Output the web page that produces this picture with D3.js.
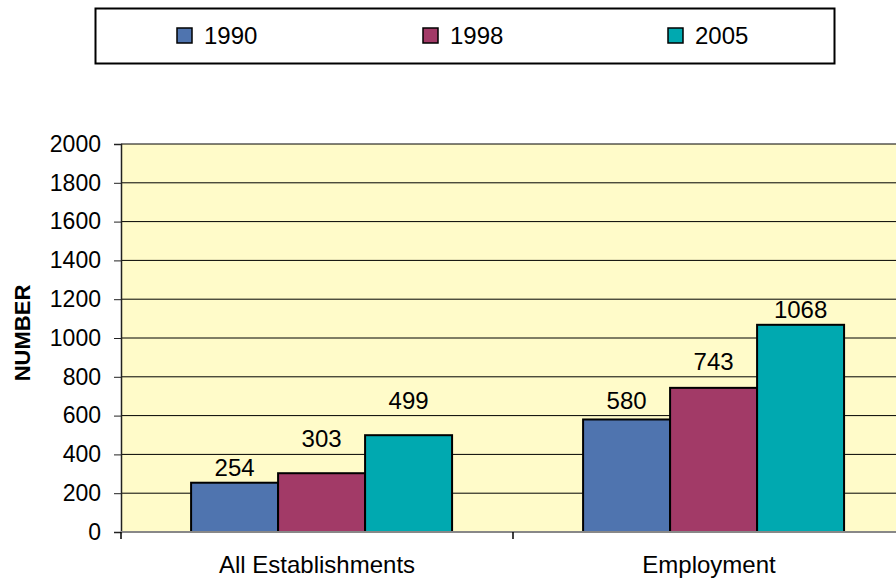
<!DOCTYPE html>
<html><head><meta charset="utf-8">
<script src="https://cdn.jsdelivr.net/npm/d3@7"></script>
<style>body{margin:0;background:#fff;}svg{display:block;font-family:"Liberation Sans",Arial,sans-serif;}</style>
</head><body>
<svg id="c" width="896" height="582"></svg>
<script>
const categories = ["All Establishments", "Employment"];
const seriesNames = ["1990", "1998", "2005"];
const values1990 = [254, 580];
const values1998 = [303, 743];
const values2005 = [499, 1068];
const yTicks = [0, 200, 400, 600, 800, 1000, 1200, 1400, 1600, 1800, 2000];
const colors = ["#4F74AF", "#A23A67", "#00A9B0"];

const seriesValues = [values1990, values1998, values2005];
const svg = d3.select("#c");
const L = 121, T = 144, B = 532, R = 905;

const x0 = d3.scaleBand().domain(categories).range([L, R]).paddingInner(0).paddingOuter(0);
const x1 = d3.scaleBand().domain(seriesNames).range([0, x0.bandwidth()]).paddingOuter(0.753).paddingInner(0).align(0.535);
const y = d3.scaleLinear().domain([0, 2000]).range([B, T]);

// label placement: sit above bar, but hop above a gridline if the text would cross it
function labelBaseline(v) {
  let base = y(v) - 7;
  const h = 16;
  yTicks.forEach(t => {
    const gy = y(t);
    if (t > 0 && gy < base + 4 && gy > base - h) base = gy - 7;
  });
  return base;
}

// plot background
svg.append("rect").attr("x", L).attr("y", T).attr("width", R - L).attr("height", B - T).attr("fill", "#FFFBC9");

// gridlines
svg.append("g").selectAll("line").data(yTicks.filter(d => d > 0)).join("line")
  .attr("x1", L).attr("x2", R).attr("y1", d => y(d)).attr("y2", d => y(d))
  .attr("stroke", "#000").attr("stroke-width", 1);

// bars
const groups = svg.append("g").selectAll("g").data(categories).join("g")
  .attr("transform", c => `translate(${x0(c)},0)`);
groups.each(function(c, ci) {
  const g = d3.select(this);
  seriesNames.forEach((s, si) => {
    const v = seriesValues[si][ci];
    g.append("rect")
      .attr("x", x1(s)).attr("y", y(v))
      .attr("width", x1.bandwidth()).attr("height", y(0) - y(v))
      .attr("fill", colors[si]).attr("stroke", "#000").attr("stroke-width", 2);
    g.append("text")
      .attr("x", x1(s) + x1.bandwidth() / 2).attr("y", labelBaseline(v))
      .attr("text-anchor", "middle").attr("font-size", 24).attr("fill", "#000")
      .text(v);
  });
});

// y axis
const yAxis = svg.append("g").attr("transform", `translate(${L},0)`)
  .call(d3.axisLeft(y).tickValues(yTicks).tickSize(7).tickPadding(13).tickFormat(d3.format("d")));
yAxis.select(".domain").attr("stroke", "#222").attr("stroke-width", 1.5);
yAxis.selectAll(".tick line").attr("stroke", "#222");
yAxis.selectAll("text").attr("font-size", 23).attr("fill", "#000").attr("font-family", "Liberation Sans, Arial, sans-serif");

// x axis
const xAxis = svg.append("g").attr("transform", `translate(0,${B})`)
  .call(d3.axisBottom(x0).tickSize(0).tickPadding(24));
xAxis.select(".domain").remove();
xAxis.append("line").attr("x1", L).attr("x2", R).attr("y1", 0).attr("y2", 0).attr("stroke", "#888").attr("stroke-width", 2);
xAxis.selectAll(".tickmark").data([L, L + x0.bandwidth()]).join("line")
  .attr("x1", d => d).attr("x2", d => d).attr("y1", 0).attr("y2", 7).attr("stroke", "#000").attr("stroke-width", 1.5);
xAxis.selectAll("text").attr("font-size", 24).attr("fill", "#000").attr("font-family", "Liberation Sans, Arial, sans-serif");

// y title
svg.append("text").attr("transform", `translate(30,333) rotate(-90)`)
  .attr("text-anchor", "middle").attr("font-size", 22).attr("font-weight", "bold").text("NUMBER");

// legend
svg.append("rect").attr("x", 95.5).attr("y", 8.5).attr("width", 739).attr("height", 55)
  .attr("fill", "#fff").attr("stroke", "#000").attr("stroke-width", 2);
const legX = [177, 423, 668];
seriesNames.forEach((s, i) => {
  svg.append("rect").attr("x", legX[i]).attr("y", 28).attr("width", 15).attr("height", 15)
    .attr("fill", colors[i]).attr("stroke", "#000").attr("stroke-width", 1.5);
  svg.append("text").attr("x", legX[i] + 27).attr("y", 44).attr("font-size", 24).text(s);
});
</script>
</body></html>
